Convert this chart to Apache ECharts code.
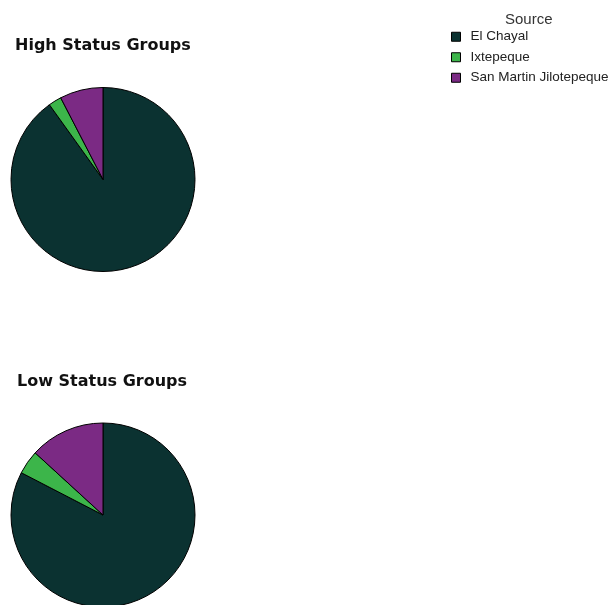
<!DOCTYPE html>
<html><head><meta charset="utf-8">
<script src="https://cdn.jsdelivr.net/npm/echarts@6/dist/echarts.min.js"></script>
<style>html,body{margin:0;padding:0;background:#fff}#c{width:613px;height:605px}</style>
</head><body><div id="c"></div>
<script>
const categories = ["El Chayal", "Ixtepeque", "San Martin Jilotepeque"];
const highStatus = [90.1, 2.3, 7.6];
const lowStatus = [82.6, 4.2, 13.2];
const colors = ["#0b3231", "#3cb54a", "#7b2a84"];
const panelTitles = ["High Status Groups", "Low Status Groups"];
const legendTitle = "Source";

const chart = echarts.init(document.getElementById('c'));
function mk(vals){ return categories.map((n,i)=>({name:n, value:vals[i], itemStyle:{color:colors[i]}})); }
chart.setOption({
  animation:false,
  title:[
    {text:panelTitles[0], left:10, top:33, textStyle:{fontFamily:'DejaVu Sans', fontWeight:'bold', fontSize:16, color:'#111'}},
    {text:panelTitles[1], left:12, top:369, textStyle:{fontFamily:'DejaVu Sans', fontWeight:'bold', fontSize:16, color:'#111'}},
    {text:legendTitle, left:500, top:7, textStyle:{fontFamily:'Liberation Sans', fontWeight:'normal', fontSize:15, color:'#333'}}
  ],
  legend:{
    orient:'vertical', left:446, top:24, itemGap:5, itemWidth:9, itemHeight:9, icon:'rect',
    data:categories,
    itemStyle:{borderColor:'#000', borderWidth:1},
    textStyle:{fontFamily:'Liberation Sans', fontSize:13.5, lineHeight:15.5, color:'#222', padding:[0,0,0,5]}
  },
  series:[
    {type:'pie', center:[103,179.5], radius:92, startAngle:90, clockwise:true, label:{show:false}, labelLine:{show:false},
     itemStyle:{borderColor:'#000', borderWidth:1}, emphasis:{disabled:true}, data:mk(highStatus)},
    {type:'pie', center:[103,515], radius:92, startAngle:90, clockwise:true, label:{show:false}, labelLine:{show:false},
     itemStyle:{borderColor:'#000', borderWidth:1}, emphasis:{disabled:true}, data:mk(lowStatus)}
  ]
});
</script></body></html>
